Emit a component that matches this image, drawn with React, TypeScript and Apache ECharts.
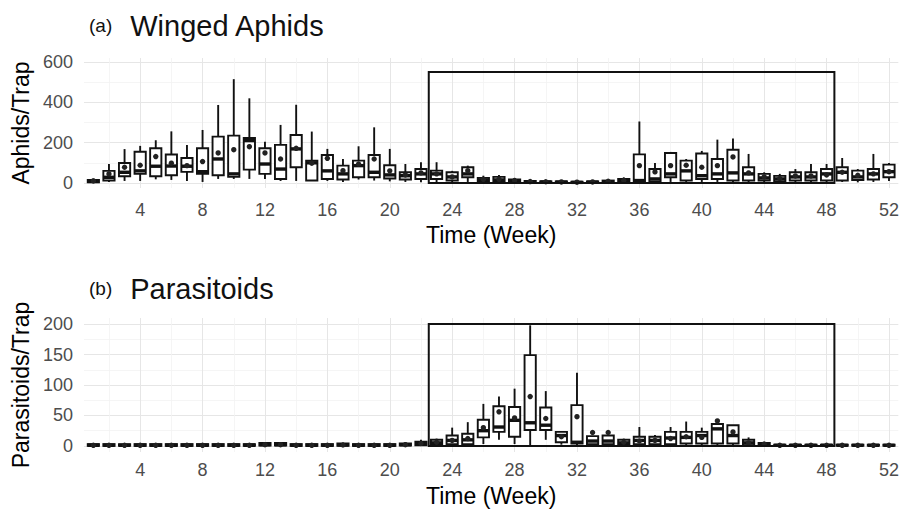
import React, { useEffect, useRef } from "react";
import * as echarts from "echarts";

// ---- data ----
const weeks = Array.from({ length: 52 }, (_, i) => i + 1);

const aphMin = [0,5,10,10,18,15,10,5,20,20,20,20,10,10,10,10,5,17,12,8,5,3,3,2,5,2,2,0,0,0,0,0,0,0,0,0,2,5,5,5,5,5,3,2,2,2,2,2,5,3,5,10];
const aphQ1 = [3,12,33,45,33,38,55,45,38,30,66,45,20,78,12,20,17,28,28,22,17,20,20,12,28,8,8,5,3,2,2,1,2,3,5,7,7,28,12,20,20,12,12,12,8,12,12,12,12,15,17,28];
const aphMed = [8,28,53,60,83,84,83,56,119,45,210,94,69,169,100,60,45,86,53,40,36,45,45,30,45,15,15,10,6,5,4,3,4,6,10,12,20,45,60,36,45,50,45,25,20,30,30,45,53,30,45,56];
const aphQ3 = [15,60,99,155,172,141,124,172,230,235,223,172,189,238,111,139,86,111,139,88,53,69,61,53,78,25,30,18,10,8,8,6,8,12,20,142,69,149,111,146,119,165,78,45,35,53,53,69,78,61,69,91];
const aphMax = [22,94,168,184,212,256,188,263,387,515,420,205,288,388,255,169,119,182,276,169,94,103,103,60,86,36,40,25,15,12,10,8,12,18,28,305,99,154,119,159,215,221,144,53,45,69,94,94,124,69,144,99];
const aphMean = [10,45,78,88,131,98,86,106,149,165,180,149,119,172,98,122,61,94,119,60,40,50,45,30,61,18,18,12,7,6,5,4,5,8,12,86,55,86,88,78,86,129,50,30,22,35,35,40,53,38,45,56];

const parMin = [0,0,0,0,0,0,0,0,0,0,0,0,0,0,0,0,0,0,0,0,0,0,0,0,0,3,10,3,0,10,2,0,0,0,0,0,0,0,0,0,0,0,0,0,0,0,0,0,0,0,0,0];
const parQ1 = [0,0,0,0,0,0,0,0,0,0,0,0.5,0.5,0,0,0,0,0,0,0,0.5,1,2,3,3,14,23,15,26,26,6,4,3,3,2,3,3,3,4,4,4,4,1,0.5,0.3,0.3,0.3,0.3,0.3,0.3,0.3,0.3];
const parMed = [1,1,1,1,1,1,1,1,1,1,1,2,2,1,1,1,1.5,1,1,1,2,4,5,9,10,25,31,42,38,34,17,6,8,8,5,9,9,13,14,17,28,17,5,2,1,1,1,1,1,1,1,1];
const parQ3 = [3,3,3,3,3,3,3,3,3,3,3,5,5,3,3,3,4,3,3,3,4,7,10,17,20,43,65,64,149,63,23,67,16,17,10,15,15,23,23,23,36,34,10,5,2,2,2,2,2,2,2,2];
const parMax = [4,4,4,4,4,4,4,4,4,4,4,6,6,4,4,4,5,4,4,4,6,10,12,30,39,69,81,94,198,90,23,120,16,17,12,31,18,31,40,30,38,34,14,6,3,3,3,3,3,3,3,3];
const parMean = [1,1,1,1,1,1,1,1,1,1,1,2,2,1,1,1,1.5,1,1,1,2,4,6,9,12,30,56,46,81,45,15,48,22,22,6,8,9,12,15,14,41,23,5,3,1,1,1,1,1,1,1,1];

const xMajor = [4, 8, 12, 16, 20, 24, 28, 32, 36, 40, 44, 48, 52];
const xMinor = [2, 6, 10, 14, 18, 22, 26, 30, 34, 38, 42, 46, 50];
const aphMajor = [0, 200, 400, 600];
const aphMinor = [100, 300, 500];
const parMajor = [0, 50, 100, 150, 200];
const parMinor = [25, 75, 125, 175];

// highlighted window: [weekFrom, weekTo, yFrom, yTo]
const aphWindow = [[22.5, 48.5, 0, 550]];
const parWindow = [[22.5, 48.5, 0, 200]];

const FONT = "Liberation Sans, Arial, Helvetica, sans-serif";

function boxData(mn: number[], q1: number[], md: number[], q3: number[], mx: number[], mean: number[]) {
  return weeks.map((w, i) => [w, mn[i], q1[i], md[i], q3[i], mx[i], mean[i]]);
}

const renderBox = (params: any, api: any) => {
  const x = api.value(0);
  const mn = api.value(1), q1 = api.value(2), md = api.value(3), q3 = api.value(4), mx = api.value(5), mean = api.value(6);
  const half = 0.36;
  const tl = api.coord([x - half, q3]);
  const br = api.coord([x + half, q1]);
  const cMin = api.coord([x, mn]);
  const cMax = api.coord([x, mx]);
  const mL = api.coord([x - half, md]);
  const mR = api.coord([x + half, md]);
  const cMean = api.coord([x, mean]);
  const stroke = { stroke: "#111", lineWidth: 1.9 };
  return {
    type: "group",
    children: [
      { type: "line", shape: { x1: cMax[0], y1: cMax[1], x2: cMax[0], y2: tl[1] }, style: stroke },
      { type: "line", shape: { x1: cMin[0], y1: br[1], x2: cMin[0], y2: cMin[1] }, style: stroke },
      { type: "rect", shape: { x: tl[0], y: tl[1], width: br[0] - tl[0], height: Math.max(br[1] - tl[1], 0.5) }, style: { fill: "#fff", ...stroke } },
      { type: "line", shape: { x1: mL[0], y1: mL[1], x2: mR[0], y2: mR[1] }, style: { stroke: "#111", lineWidth: 3.4 } },
      { type: "circle", shape: { cx: cMean[0], cy: cMean[1], r: 2.7 }, style: { fill: "#222" } },
    ],
  };
};

const renderWindow = (params: any, api: any) => {
  const a = api.coord([api.value(0), api.value(3)]);
  const b = api.coord([api.value(1), api.value(2)]);
  return {
    type: "rect",
    shape: { x: a[0], y: a[1], width: b[0] - a[0], height: b[1] - a[1] },
    style: { fill: "none", stroke: "#111", lineWidth: 2 },
  };
};

function xAxisPair(gridIndex: number, labelMargin: number, nameGap: number) {
  return [
    {
      type: "value",
      gridIndex,
      min: 0.4,
      max: 52.6,
      position: "bottom",
      axisLine: { show: false },
      axisTick: { show: false, customValues: xMajor },
      axisLabel: { customValues: xMajor, fontSize: 18, color: "#4d4d4d", margin: labelMargin, fontFamily: FONT },
      splitLine: { show: true, lineStyle: { color: "#e6e6e6", width: 1 } },
      name: "Time (Week)",
      nameLocation: "middle",
      nameGap,
      nameTextStyle: { fontSize: 23, color: "#000", fontFamily: FONT },
    },
    {
      type: "value",
      gridIndex,
      min: 0.4,
      max: 52.6,
      position: "top",
      axisLine: { show: false },
      axisTick: { show: false, customValues: xMinor },
      axisLabel: { show: false, customValues: xMinor },
      splitLine: { show: true, lineStyle: { color: "#f2f2f2", width: 0.8 } },
    },
  ];
}

function yAxisPair(gridIndex: number, min: number, max: number, major: number[], minor: number[], name: string) {
  return [
    {
      type: "value",
      gridIndex,
      min,
      max,
      position: "left",
      axisLine: { show: false },
      axisTick: { show: false, customValues: major },
      axisLabel: { customValues: major, fontSize: 18, color: "#4d4d4d", margin: 11, fontFamily: FONT },
      splitLine: { show: true, lineStyle: { color: "#e6e6e6", width: 1 } },
      name,
      nameLocation: "middle",
      nameGap: 50,
      nameRotate: 90,
      nameTextStyle: { fontSize: 23, color: "#000", fontFamily: FONT },
    },
    {
      type: "value",
      gridIndex,
      min,
      max,
      position: "right",
      axisLine: { show: false },
      axisTick: { show: false, customValues: minor },
      axisLabel: { show: false, customValues: minor },
      splitLine: { show: true, lineStyle: { color: "#f2f2f2", width: 0.8 } },
    },
  ];
}

const titleRich = {
  a: { fontSize: 19, color: "#111", fontFamily: FONT, fontWeight: "normal", padding: [0, 18, 0, 0] },
  b: { fontSize: 29, color: "#111", fontFamily: FONT, fontWeight: "normal" },
};

export default function App() {
  const ref = useRef<HTMLDivElement>(null);
  useEffect(() => {
    if (!ref.current) return;
    const chart = echarts.init(ref.current, null, { renderer: "svg" });
    chart.setOption({
      animation: false,
      backgroundColor: "#fff",
      textStyle: { fontFamily: FONT },
      title: [
        {
          left: 84,
          top: 6,
          text: "{a|(a)}{b|Winged Aphids}",
          textStyle: { fontWeight: "normal", rich: titleRich },
        },
        {
          left: 84,
          top: 269,
          text: "{a|(b)}{b|Parasitoids}",
          textStyle: { fontWeight: "normal", rich: titleRich },
        },
      ],
      grid: [
        { left: 84, width: 818, top: 58, height: 130 },
        { left: 84, width: 818, top: 318, height: 134 },
      ],
      xAxis: [...xAxisPair(0, 13, 35), ...xAxisPair(1, 9, 32)],
      yAxis: [
        ...yAxisPair(0, -25, 620, aphMajor, aphMinor, "Aphids/Trap"),
        ...yAxisPair(1, -10, 210, parMajor, parMinor, "Parasitoids/Trap"),
      ],
      series: [
        { type: "custom", xAxisIndex: 0, yAxisIndex: 0, renderItem: renderBox, data: boxData(aphMin, aphQ1, aphMed, aphQ3, aphMax, aphMean), z: 2 },
        { type: "custom", xAxisIndex: 0, yAxisIndex: 0, renderItem: renderWindow, data: aphWindow, z: 3 },
        { type: "custom", xAxisIndex: 2, yAxisIndex: 2, renderItem: renderBox, data: boxData(parMin, parQ1, parMed, parQ3, parMax, parMean), z: 2 },
        { type: "custom", xAxisIndex: 2, yAxisIndex: 2, renderItem: renderWindow, data: parWindow, z: 3 },
      ],
    });
    return () => chart.dispose();
  }, []);
  return <div ref={ref} style={{ position: "absolute", left: 0, top: 0, width: 902, height: 511 }} />;
}
